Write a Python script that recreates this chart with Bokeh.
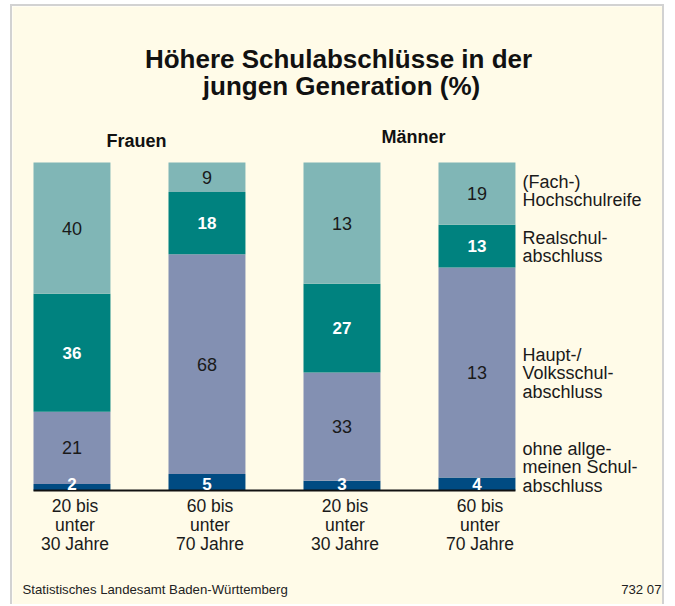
import numpy as np
from bokeh.plotting import figure
from bokeh.models import ColumnDataSource, Label, Range1d
from bokeh.core.properties import value
from bokeh.embed import file_html
from bokeh.resources import INLINE

# ---------------- data ----------------
title_lines = ["Höhere Schulabschlüsse in der", "jungen Generation (%)"]
groups = ["Frauen", "Männer"]
age_lines = [["20 bis", "unter", "30 Jahre"],
             ["60 bis", "unter", "70 Jahre"],
             ["20 bis", "unter", "30 Jahre"],
             ["60 bis", "unter", "70 Jahre"]]
# segment heights (bottom -> top)
ohne = [2, 5, 3, 4]
haupt = [22, 67, 33, 64]
real = [36, 19, 27, 13]
hoch = [40, 9, 37, 19]
# numbers as printed in the picture
ohne_lab = ["2", "5", "3", "4"]
haupt_lab = ["21", "68", "33", "13"]
real_lab = ["36", "18", "27", "13"]
hoch_lab = ["40", "9", "13", "19"]
legend_lines = [["(Fach-)", "Hochschulreife"],
                ["Realschul-", "abschluss"],
                ["Haupt-/", "Volksschul-", "abschluss"],
                ["ohne allge-", "meinen Schul-", "abschluss"]]
source_text = "Statistisches Landesamt Baden-Württemberg"
code_text = "732 07"

C_DARK = "#004b82"
C_LAV = "#8390b2"
C_TEAL = "#00827f"
C_LIGHT = "#80b6b6"
BG = "#fffbe8"
FONT = "Liberation Sans"

xs = np.arange(4)
BW = 0.57

# helpers: picture pixel -> data coordinate (placement only)
PX_PER_X = 135.0
PX_PER_PCT = 3.28
def X(px):
    return -BW / 2 + (px - 33) / PX_PER_X

def Y(py):
    return (490 - py) / PX_PER_PCT

CANVAS_L, CANVAS_T, CANVAS_R, CANVAS_B = 12, 6, 666, 606

p = figure(width=CANVAS_R - CANVAS_L, height=CANVAS_B - CANVAS_T,
           output_backend="svg", toolbar_location=None,
           x_range=Range1d(X(CANVAS_L), X(CANVAS_R)),
           y_range=Range1d(Y(CANVAS_B), Y(CANVAS_T)),
           min_border=0, min_border_left=0, min_border_right=0,
           min_border_top=0, min_border_bottom=0)
p.styles = {"margin-left": "10px", "margin-top": "4px",
            "border-left": "2px solid #d2d2d2", "border-right": "2px solid #d2d2d2",
            "border-top": "2px solid #d2d2d2"}
p.axis.visible = False
p.grid.visible = False
p.outline_line_color = None
p.background_fill_color = BG
p.border_fill_color = BG

segments = [(ohne, ohne_lab, C_DARK, "white", "bold"),
            (haupt, haupt_lab, C_LAV, "#1a1a1a", "normal"),
            (real, real_lab, C_TEAL, "white", "bold"),
            (hoch, hoch_lab, C_LIGHT, "#1a1a1a", "normal")]

# bars first
bottom = np.zeros(4)
sources = []
for i, (vals, labs, col, tcol, tstyle) in enumerate(segments):
    vals = np.array(vals, dtype=float)
    top = bottom + vals
    src = ColumnDataSource(dict(x=xs, bottom=bottom, top=top,
                                ymid=(bottom + top) / 2 if i > 0 else bottom,
                                lab=labs))
    p.vbar(x="x", width=BW, bottom="bottom", top="top", source=src,
           fill_color=col, line_color=None)
    sources.append(src)
    bottom = top

# baseline under the bars
p.segment(x0=[xs[0] - BW / 2], y0=[0], x1=[xs[-1] + BW / 2], y1=[0],
          line_color="#111111", line_width=2)

# value labels on top of all bars
for i, (vals, labs, col, tcol, tstyle) in enumerate(segments):
    p.text(x="x", y="ymid", text="lab", source=sources[i],
           text_align="center", text_baseline="middle",
           y_offset=0 if i > 0 else -7,
           text_color=tcol, text_font=value(FONT), text_font_style=tstyle,
           text_font_size="17px" if tstyle == "bold" else "18px")

def lab(text, px, py, size, align="left", style="normal", color="#111111"):
    p.add_layout(Label(x=X(px), y=Y(py), text=text, text_align=align,
                       text_baseline="middle", text_font=FONT,
                       text_font_size=size, text_font_style=style,
                       text_color=color))

# title
lab(title_lines[0], 338, 58, "26px", align="center", style="bold")
lab(title_lines[1], 341, 85, "26px", align="center", style="bold")

# group headers
lab(groups[0], 136, 140, "18px", align="center", style="bold")
lab(groups[1], 413, 136, "18px", align="center", style="bold")

# category labels
for k in range(4):
    cx = 74.5 + 135 * k
    for j, line in enumerate(age_lines[k]):
        lab(line, cx, 505.5 + 19 * j, "17.5px", align="center", color="#1a1a1a")

# legend labels
legend_centers = [181, 237, 354, 448]
for k, lines in enumerate(legend_lines):
    for j, line in enumerate(lines):
        lab(line, 522, legend_centers[k] + 18.7 * j, "18px", color="#1a1a1a")

# footer
lab(source_text, 22, 589, "13.2px", color="#222222")
lab(code_text, 661, 589, "13.2px", align="right", color="#222222")

open("out.html", "w").write(file_html(p, INLINE))
